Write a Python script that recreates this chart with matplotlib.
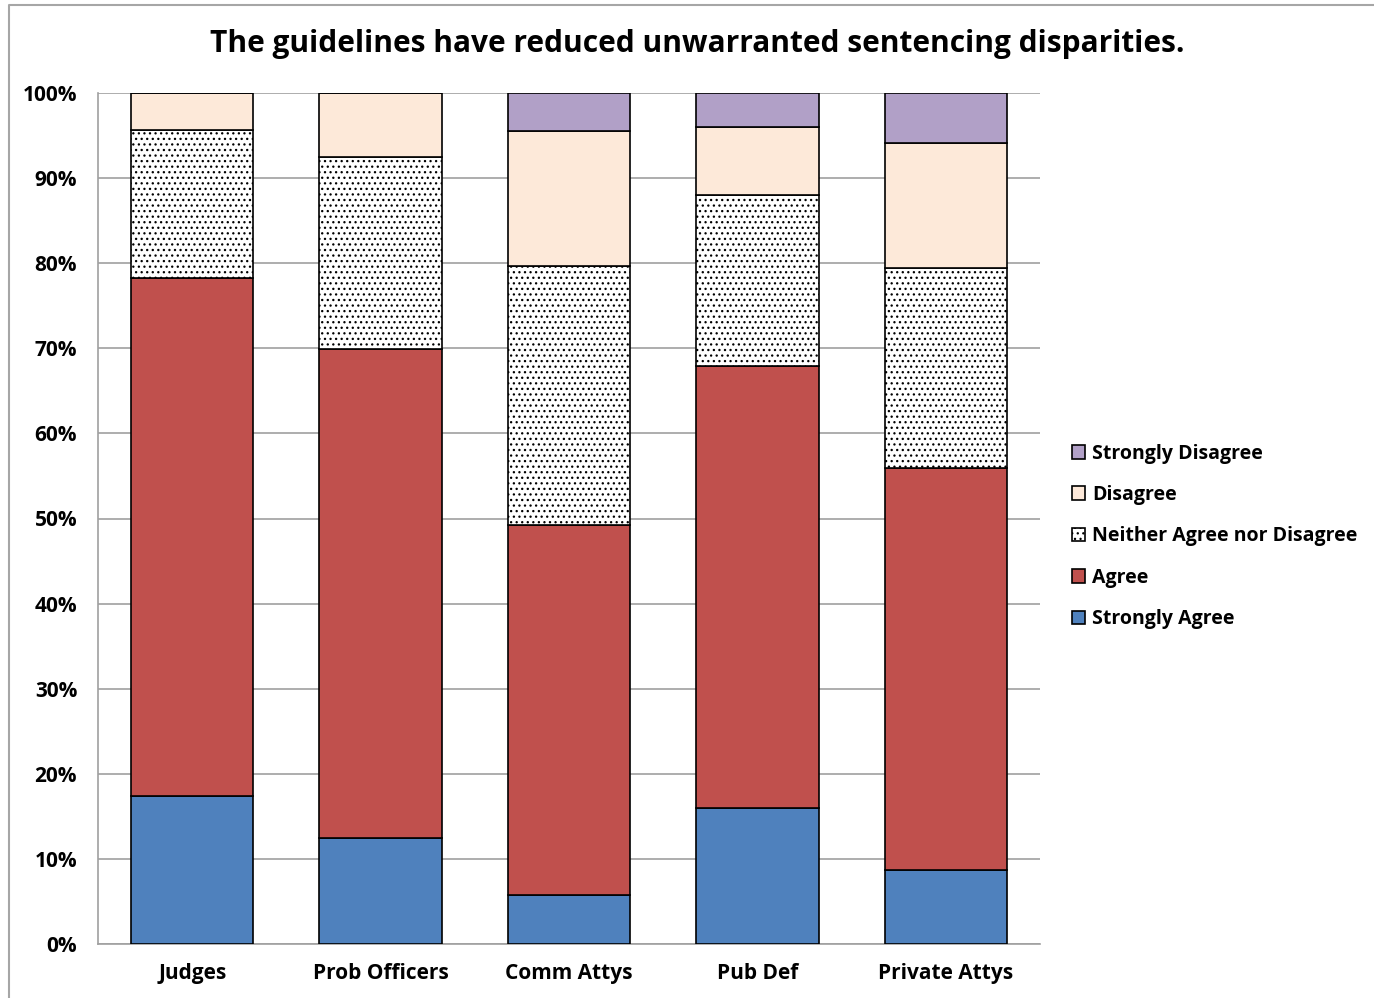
import numpy as np
import matplotlib.pyplot as plt
from matplotlib.lines import Line2D

groups = ['Judges', 'Prob Officers', 'Comm Attys', 'Pub Def', 'Private Attys']
responses = ['Strongly Agree', 'Agree', 'Neither Agree nor Disagree',
             'Disagree', 'Strongly Disagree']

# percent of respondents in each group
strongly_agree = [17.4, 12.5, 5.8, 16.0, 8.7]
agree = [60.9, 57.4, 43.4, 51.9, 47.2]
neither = [17.3, 22.6, 30.5, 20.1, 23.5]
disagree = [4.4, 7.5, 15.8, 8.0, 14.7]
strongly_disagree = [0.0, 0.0, 4.5, 4.0, 5.9]

series = [strongly_agree, agree, neither, disagree, strongly_disagree]
colors = ['#4f81bd', '#c0504d', 'white', '#fde9d9', '#b1a0c7']
hatches = [None, None, '...', None, None]

plt.rcParams['font.family'] = ['Open Sans', 'DejaVu Sans']
plt.rcParams['font.weight'] = 'bold'
plt.rcParams['hatch.linewidth'] = 0.9
plt.rcParams['hatch.color'] = '#444444'

fig = plt.figure(figsize=(13.74, 9.98), dpi=100)
ax = fig.add_axes([98/1374, 1-944/998, 942/1374, 851/998])

# chart border (top and left edges only)
fig.lines.append(Line2D([9/1374, 9/1374, 1], [0, 1-5/998, 1-5/998], transform=fig.transFigure,
                        color='#a6a6a6', linewidth=1.5))

x = np.arange(len(groups))
bottom = np.zeros(len(groups))
handles = []
for vals, lab, c, h in zip(series, responses, colors, hatches):
    vals = np.array(vals)
    b = ax.bar(x, vals, 0.65, bottom=bottom, color=c, edgecolor='black',
               linewidth=1.2, hatch=h, label=lab, zorder=3)
    bottom += vals
    handles.append(b)

ax.set_xlim(-0.5, 4.5)
ax.set_ylim(0, 100)
ax.set_yticks(np.arange(0, 101, 10))
ax.set_yticklabels([f'{v}%' for v in range(0, 101, 10)], fontsize=15, fontweight='bold')
ax.set_xticks(x)
ax.set_xticklabels(groups, fontsize=15, fontweight='bold')
ax.tick_params(length=0)
ax.tick_params(axis='y', pad=15)
ax.tick_params(axis='x', pad=14)
ax.grid(axis='y', color='#a0a0a0', linewidth=1.2, zorder=0)
for s in ['top', 'right']:
    ax.spines[s].set_visible(False)
ax.spines['left'].set_color('#a0a0a0')
ax.spines['bottom'].set_color('#a0a0a0')
ax.spines['left'].set_linewidth(1.2)
ax.spines['bottom'].set_linewidth(1.2)

fig.text(697/1374, 1-44/998, 'The guidelines have reduced unwarranted sentencing disparities.',
         ha='center', va='center', fontsize=21.5, fontweight='bold')

ax.legend(handles[::-1], responses[::-1], loc='center left',
          bbox_to_anchor=(1.015, 0.479), frameon=False,
          handlelength=0.7, handleheight=0.7, handletextpad=0.35, labelspacing=1.1,
          prop={'weight': 'bold', 'size': 14})

fig.savefig('out.png', dpi=100)
